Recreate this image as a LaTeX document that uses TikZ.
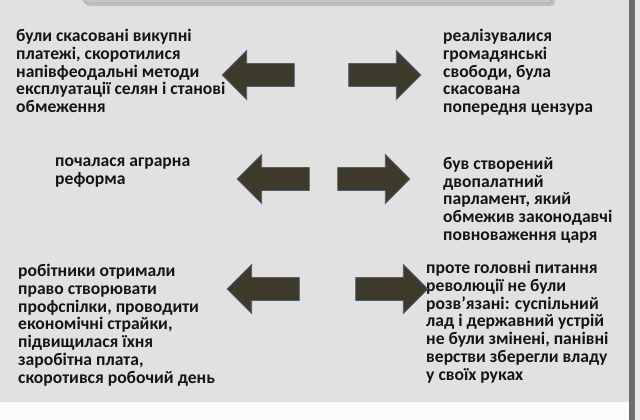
\documentclass[tikz,border=0pt]{standalone}
\usepackage{fontspec}
\setmainfont{Carlito}
\usetikzlibrary{shapes.arrows}
\definecolor{slideGrey}{HTML}{E1E1E1}
\definecolor{paperWhite}{HTML}{FBFBFB}
\definecolor{barGrey}{HTML}{6C6C6C}
\definecolor{titleGrey}{HTML}{C6C6C6}
\definecolor{titleEdge}{HTML}{8E8E8E}
\definecolor{arrowFill}{HTML}{3D392B}
\definecolor{arrowEdge}{HTML}{4F5B69}
\definecolor{inkBlack}{HTML}{151515}

\tikzset{
  txtblock/.style={anchor=north west,align=left,inner sep=0pt,text=inkBlack,
    font=\bfseries\fontsize{17.6}{17.8}\selectfont},
  fatarrow/.style={single arrow,draw=arrowEdge,fill=arrowFill,line width=0.8pt,
    inner xsep=0pt,inner ysep=11pt,text height=0pt,text depth=0pt,
    single arrow head extend=13pt,minimum height=72pt},
  toleft/.style={fatarrow,shape border rotate=180},
  toright/.style={fatarrow}
}

\begin{document}
\begin{tikzpicture}[x=1pt,y=-1pt]
\useasboundingbox (0,0) rectangle (640,420);
\fill[paperWhite] (0,0) rectangle (640,420);
\fill[slideGrey] (0,0) rectangle (629,402);
\fill[barGrey] (629,0) rectangle (635,420);
\fill[slideGrey!70!white] (635,0) rectangle (640,420);
% title box, cut by the top edge
\fill[black!25,rounded corners=4pt] (85,-20) rectangle (555,6);
\draw[titleEdge,fill=titleGrey,rounded corners=4pt] (83,-20) rectangle (552,3);

\node[txtblock] (freeL) at (16,29) {були скасовані викупні\\платежі, скоротилися\\напівфеодальні методи\\експлуатації селян і станові\\обмеження};
\node[txtblock] (freeR) at (443,29) {реалізувалися\\громадянські\\свободи, була\\скасована\\попередня цензура};
\node[toleft] (arrL1) at (264,75) {};
\node[toright] (arrR1) at (379,75) {};

\node[txtblock] (agrL) at (55,158) {почалася аграрна\\реформа};
\node[txtblock] (parlR) at (443,157) {був створений\\двопалатний\\парламент, який\\обмежив законодавчі\\повноваження царя};
\node[toleft] (arrL2) at (279,179) {};
\node[toright] (arrR2) at (368,179) {};

\node[txtblock] (workL) at (18,264) {робітники отримали\\право створювати\\профспілки, проводити\\економічні страйки,\\підвищилася їхня\\заробітна плата,\\скоротився робочий день};
\node[txtblock] (restR) at (426,261) {проте головні питання\\революції не були\\розв’язані: суспільний\\лад і державний устрій\\не були змінені, панівні\\верстви зберегли владу\\у своїх руках};
\node[toleft] (arrL3) at (269,289) {};
\node[toright] (arrR3) at (386,289) {};
\end{tikzpicture}
\end{document}
